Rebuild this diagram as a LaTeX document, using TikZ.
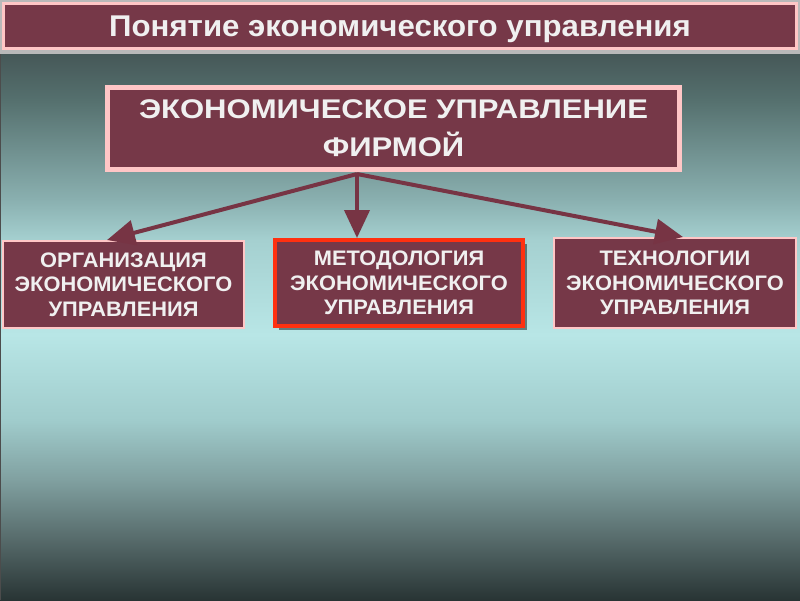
\documentclass[tikz,border=0pt]{standalone}
\usepackage{fontspec}
\setmainfont{Liberation Sans}
\newfontfamily\widefont[FakeStretch=1.15]{Liberation Sans}
\newfontfamily\semiwide[FakeStretch=1.04]{Liberation Sans}
\usetikzlibrary{arrows.meta,shadows}
\definecolor{boxfill}{HTML}{763848}
\definecolor{pinkline}{HTML}{FFC6C6}
\definecolor{redline}{HTML}{FF3010}
\definecolor{arrowcol}{HTML}{773444}
\definecolor{txt}{HTML}{F0F0F0}
\definecolor{bgA}{HTML}{465858}
\definecolor{bgB}{HTML}{55706E}
\definecolor{bgC}{HTML}{8AB0B0}
\definecolor{bgD}{HTML}{A5D0D0}
\definecolor{bgE}{HTML}{B8E6E6}
\definecolor{bgF}{HTML}{A0CCCC}
\definecolor{bgG}{HTML}{80A0A0}
\definecolor{bgH}{HTML}{566A6A}
\definecolor{bgI}{HTML}{283434}
\pgfdeclareverticalshading{bgshade}{100bp}{color(0bp)=(bgI); color(25bp)=(bgI); color(30.49bp)=(bgH); color(35.99bp)=(bgG); color(41.48bp)=(bgF); color(49.27bp)=(bgE); color(57.97bp)=(bgD); color(61.63bp)=(bgC); color(70.79bp)=(bgB); color(75bp)=(bgA); color(100bp)=(bgA)}
\tikzset{
  titlebox/.style={draw=pinkline, line width=3pt, fill=boxfill, text=txt, inner sep=0pt,
    text depth=0pt, font=\semiwide\fontsize{30}{34}\selectfont\bfseries},
  mainbox/.style={draw=pinkline, line width=5pt, fill=boxfill, text=txt, inner sep=0pt, align=center,
    font=\widefont\fontsize{27}{38}\selectfont\bfseries},
  subbox/.style={draw=pinkline, line width=2pt, fill=boxfill, text=txt, inner sep=0pt, align=center,
    font=\semiwide\fontsize{21}{24.5}\selectfont\bfseries},
  selbox/.style={subbox, draw=redline, line width=4pt,
    drop shadow={shadow xshift=4pt, shadow yshift=-4pt, fill=black, opacity=0.45}},
  conn/.style={draw=arrowcol, line width=4pt, -{Triangle[width=25pt,length=28pt]}}
}
\begin{document}
\begin{tikzpicture}[x=1pt,y=-1pt]
\useasboundingbox (0,0) rectangle (800,600);
\fill[gray!55] (0,0) rectangle (800,54);
\begin{scope}[y=1pt]
\shade[shading=bgshade] (0,-600) rectangle (800,-54);
\end{scope}
\draw[black!70, line width=1pt] (0.5,54) -- (0.5,600);

\node[titlebox, minimum width=793pt, minimum height=45pt] (title) at (400,26) {Понятие экономического управления};

\node[mainbox, minimum width=572pt, minimum height=82pt] (main) at (393.5,128.5)
  {ЭКОНОМИЧЕСКОЕ УПРАВЛЕНИЕ\\ФИРМОЙ};

\node[subbox, minimum width=241pt, minimum height=87pt] (left) at (123.5,284.5)
  {ОРГАНИЗАЦИЯ\\ЭКОНОМИЧЕСКОГО\\УПРАВЛЕНИЯ};
\node[selbox, minimum width=248pt, minimum height=86pt] (mid) at (399,283)
  {МЕТОДОЛОГИЯ\\ЭКОНОМИЧЕСКОГО\\УПРАВЛЕНИЯ};
\node[subbox, minimum width=242pt, minimum height=90pt] (right) at (675,283)
  {ТЕХНОЛОГИИ\\ЭКОНОМИЧЕСКОГО\\УПРАВЛЕНИЯ};

\coordinate (src) at ([xshift=-36.5pt,yshift=-2pt]main.south);
\draw[conn] (src) -- ([xshift=-16.5pt]left.north);
\draw[conn] (src) -- ([xshift=-42pt]mid.north);
\draw[conn] (src) -- ([xshift=8pt]right.north);
\end{tikzpicture}
\end{document}
